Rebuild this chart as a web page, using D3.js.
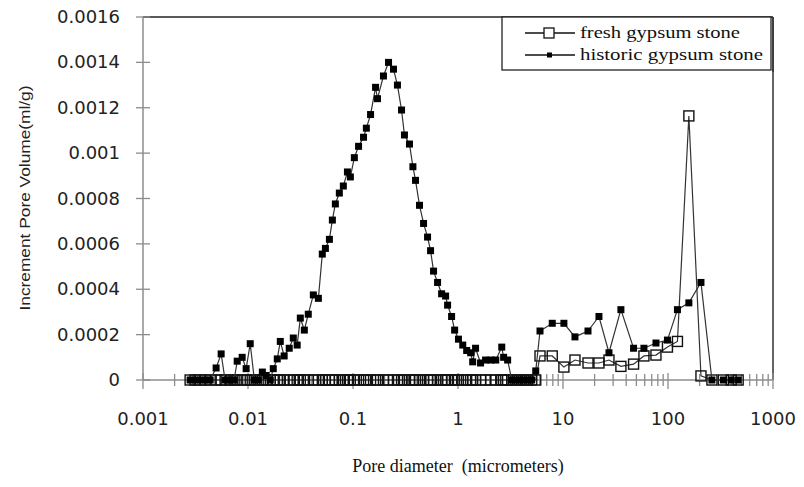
<!DOCTYPE html>
<html>
<head>
<meta charset="utf-8">
<script src="https://cdn.jsdelivr.net/npm/d3@7"></script>
<style>
  body { margin: 0; background: #fff; }
</style>
</head>
<body>
<svg id="chart"></svg>
<script>
// Pore diameter (micrometers), shared by both series
const poreDiameter = [
  0.00281, 0.00313, 0.0035, 0.0039, 0.00436, 0.00497, 0.00555, 0.00605, 0.00676, 0.00738,
  0.00789, 0.0088, 0.0096, 0.0105, 0.0115, 0.0125, 0.0137, 0.0149, 0.0163, 0.0174,
  0.019, 0.0203, 0.0221, 0.0247, 0.027, 0.0294, 0.0315, 0.0344, 0.0375, 0.0419,
  0.0468, 0.051, 0.0546, 0.0596, 0.0636, 0.0679, 0.0741, 0.0809, 0.0885, 0.0944,
  0.103, 0.113, 0.126, 0.134, 0.147, 0.164, 0.171, 0.195, 0.218, 0.243,
  0.265, 0.29, 0.309, 0.345, 0.372, 0.394, 0.43, 0.47, 0.513, 0.548,
  0.585, 0.639, 0.698, 0.762, 0.796, 0.869, 0.929, 1.01, 1.11, 1.21,
  1.32, 1.38, 1.47, 1.64, 1.83, 2.05, 2.29, 2.61, 2.72, 2.97,
  3.25, 3.55, 3.87, 4.23, 4.61, 5.04, 5.5, 6.04, 7.9, 10.2,
  13.0, 17.3, 22.0, 27.4, 35.6, 47.0, 59.0, 76.8, 98.8, 123,
  158, 206, 262, 337, 400, 466
];

// Increment pore volume (ml/g)
const historic = [
  0, 0, 0, 0, 0, 0.000053, 0.000115, 0, 0, 0,
  0.000083, 0.0001, 0.00005, 0.00016, 0, 0, 0.000035, 0.00002, 0, 0.00005,
  0.000093, 0.00017, 0.000106, 0.00014, 0.000185, 0.000154, 0.000273, 0.00022, 0.00029, 0.000375,
  0.00036, 0.000555, 0.00058, 0.00062, 0.000705, 0.000776, 0.000824, 0.000855, 0.000917, 0.000895,
  0.00098, 0.00103, 0.00107, 0.00111, 0.00117, 0.00129, 0.00124, 0.00134, 0.0014, 0.00137,
  0.0013, 0.00119, 0.00108, 0.00104, 0.00094, 0.00088, 0.00077, 0.00069, 0.00063, 0.00057,
  0.00048, 0.00043, 0.00038, 0.00037, 0.00033, 0.00028, 0.00022, 0.00018, 0.000154, 0.00013,
  0.00012, 0.00008, 0.00014, 0.000075, 0.000088, 0.000088, 0.000088, 0.000145, 0.0001, 0.000088,
  0, 0, 0, 0, 0, 0, 0.00004, 0.000216, 0.00025, 0.00025,
  0.00019, 0.000216, 0.00028, 0.00012, 0.00031, 0.00014, 0.00014, 0.000163, 0.000176, 0.00031,
  0.00034, 0.00043, 0, 0, 0, 0
];

const fresh = [
  0, 0, 0, 0, 0, 0, 0, 0, 0, 0,
  0, 0, 0, 0, 0, 0, 0, 0, 0, 0,
  0, 0, 0, 0, 0, 0, 0, 0, 0, 0,
  0, 0, 0, 0, 0, 0, 0, 0, 0, 0,
  0, 0, 0, 0, 0, 0, 0, 0, 0, 0,
  0, 0, 0, 0, 0, 0, 0, 0, 0, 0,
  0, 0, 0, 0, 0, 0, 0, 0, 0, 0,
  0, 0, 0, 0, 0, 0, 0, 0, 0, 0,
  0, 0, 0, 0, 0, 0, 0, 0.000106, 0.000106, 0.000057,
  0.000088, 0.000075, 0.000075, 0.000088, 0.00006, 0.00007, 0.000106, 0.00011, 0.000145, 0.00017,
  0.001164, 0.000018, 0, 0, 0, 0
];

const xTickValues = [0.001, 0.01, 0.1, 1, 10, 100, 1000];
const xTickLabels = ["0.001", "0.01", "0.1", "1", "10", "100", "1000"];
const yTickValues = [0, 0.0002, 0.0004, 0.0006, 0.0008, 0.001, 0.0012, 0.0014, 0.0016];
const yTickLabels = ["0", "0.0002", "0.0004", "0.0006", "0.0008", "0.001", "0.0012", "0.0014", "0.0016"];
const seriesNames = ["fresh gypsum stone", "historic gypsum stone"];

let width = 804;
let height = 487;
let margin = { top: 17, right: 31, bottom: 107, left: 143 };

let svg = d3.select("#chart")
    .attr("width", width)
    .attr("height", height);

let xScale = d3.scaleLog()
    .domain([0.001, 1000])
    .range([margin.left, width - margin.right]);

let yScale = d3.scaleLinear()
    .domain([0, 0.0016])
    .range([height - margin.bottom, margin.top]);

// minor ticks on the log axis: 2..9 in every decade
let minorTicks = xScale.ticks().filter(d => xTickValues.indexOf(d) < 0);

const axisGrey = "#8c8c8c";

// top and right frame of the plot area
svg.append("line")
    .attr("x1", margin.left).attr("x2", width - margin.right)
    .attr("y1", margin.top).attr("y2", margin.top)
    .attr("stroke", "#222").attr("stroke-width", 1.5);
svg.append("line")
    .attr("x1", width - margin.right).attr("x2", width - margin.right)
    .attr("y1", margin.top).attr("y2", height - margin.bottom)
    .attr("stroke", "#333").attr("stroke-width", 1.5);

// x axis (ticks cross the axis line)
let xAxis = svg.append("g")
    .attr("transform", `translate(0, ${yScale(0)})`);
xAxis.append("line")
    .attr("x1", margin.left).attr("x2", width - margin.right)
    .attr("stroke", axisGrey).attr("stroke-width", 1.5);
xAxis.selectAll(".minor")
    .data(minorTicks)
    .enter().append("line")
    .attr("x1", d => xScale(d)).attr("x2", d => xScale(d))
    .attr("y1", -6).attr("y2", 6)
    .attr("stroke", axisGrey).attr("stroke-width", 1.3);
xAxis.selectAll(".major")
    .data(xTickValues)
    .enter().append("line")
    .attr("x1", d => xScale(d)).attr("x2", d => xScale(d))
    .attr("y1", -7).attr("y2", 9)
    .attr("stroke", axisGrey).attr("stroke-width", 1.3);
xAxis.selectAll(".xlab")
    .data(xTickValues)
    .enter().append("text")
    .attr("x", d => xScale(d))
    .attr("y", 45)
    .attr("text-anchor", "middle")
    .style("font-family", "'DejaVu Sans', sans-serif")
    .style("font-size", "18px")
    .attr("fill", "#222")
    .text((d, i) => xTickLabels[i]);

// y axis
let yAxis = svg.append("g")
    .attr("transform", `translate(${margin.left}, 0)`);
yAxis.append("line")
    .attr("y1", yScale(0)).attr("y2", margin.top)
    .attr("stroke", axisGrey).attr("stroke-width", 1.5);
yAxis.selectAll(".ytick")
    .data(yTickValues)
    .enter().append("line")
    .attr("x1", -7).attr("x2", 7)
    .attr("y1", d => yScale(d)).attr("y2", d => yScale(d))
    .attr("stroke", axisGrey).attr("stroke-width", 1.3);
yAxis.selectAll(".ylab")
    .data(yTickValues)
    .enter().append("text")
    .attr("x", -23)
    .attr("y", d => yScale(d) + 6)
    .attr("text-anchor", "end")
    .style("font-family", "'DejaVu Sans', sans-serif")
    .style("font-size", "18px")
    .attr("fill", "#222")
    .text((d, i) => yTickLabels[i]);

// axis titles
svg.append("text")
    .attr("x", 458)
    .attr("y", 472)
    .attr("text-anchor", "middle")
    .style("font-family", "'Liberation Serif', serif")
    .style("font-size", "18px")
    .style("white-space", "pre")
    .attr("fill", "#111")
    .text("Pore diameter  (micrometers)");

svg.append("text")
    .attr("transform", "rotate(-90)")
    .attr("x", -198)
    .attr("y", 30)
    .attr("text-anchor", "middle")
    .style("font-family", "'Liberation Sans', sans-serif")
    .style("font-size", "15px")
    .attr("textLength", 225)
    .attr("lengthAdjust", "spacingAndGlyphs")
    .attr("fill", "#222")
    .text("Increment Pore Volume(ml/g)");

// series
let freshData = poreDiameter.map((d, i) => ({ d: d, v: fresh[i] }));
let historicData = poreDiameter.map((d, i) => ({ d: d, v: historic[i] }));

let line = d3.line()
    .x(p => xScale(p.d))
    .y(p => yScale(p.v));

svg.append("path")
    .datum(freshData)
    .attr("d", line)
    .attr("fill", "none")
    .attr("stroke", "#333")
    .attr("stroke-width", 1.2);

svg.selectAll(".fresh-pt")
    .data(freshData)
    .enter().append("rect")
    .attr("class", "fresh-pt")
    .attr("x", p => xScale(p.d) - 5)
    .attr("y", p => yScale(p.v) - 5)
    .attr("width", 10)
    .attr("height", 10)
    .attr("fill", "none")
    .attr("stroke", "#111")
    .attr("stroke-width", 1.4);

svg.append("path")
    .datum(historicData)
    .attr("d", line)
    .attr("fill", "none")
    .attr("stroke", "#333")
    .attr("stroke-width", 1.2);

svg.selectAll(".hist-pt")
    .data(historicData)
    .enter().append("rect")
    .attr("class", "hist-pt")
    .attr("x", p => xScale(p.d) - 3.5)
    .attr("y", p => yScale(p.v) - 3.5)
    .attr("width", 7)
    .attr("height", 7)
    .attr("fill", "#000");

// legend
let legend = svg.append("g");
legend.append("rect")
    .attr("x", 502).attr("y", 17)
    .attr("width", 269).attr("height", 53)
    .attr("fill", "#fff")
    .attr("stroke", "#222").attr("stroke-width", 1.3);
legend.append("line")
    .attr("x1", 773).attr("x2", 773)
    .attr("y1", 17).attr("y2", 72)
    .attr("stroke", "#333").attr("stroke-width", 1.5);

seriesNames.forEach((name, i) => {
    let y = 33 + i * 22;
    legend.append("line")
        .attr("x1", 525).attr("x2", 575)
        .attr("y1", y).attr("y2", y)
        .attr("stroke", "#111").attr("stroke-width", 1.3);
    if (i === 0) {
        legend.append("rect")
            .attr("x", 544).attr("y", y - 5)
            .attr("width", 10).attr("height", 10)
            .attr("fill", "#fff")
            .attr("stroke", "#111").attr("stroke-width", 1.3);
    } else {
        legend.append("rect")
            .attr("x", 547).attr("y", y - 2.5)
            .attr("width", 5).attr("height", 5)
            .attr("fill", "#000");
    }
    legend.append("text")
        .attr("x", 580)
        .attr("y", y + 5)
        .style("font-family", "'Liberation Serif', serif")
        .style("font-size", "16px")
        .attr("fill", "#111")
        .attr("textLength", i === 0 ? 160 : 183)
        .attr("lengthAdjust", "spacingAndGlyphs")
        .text(name);
});
</script>
</body>
</html>
